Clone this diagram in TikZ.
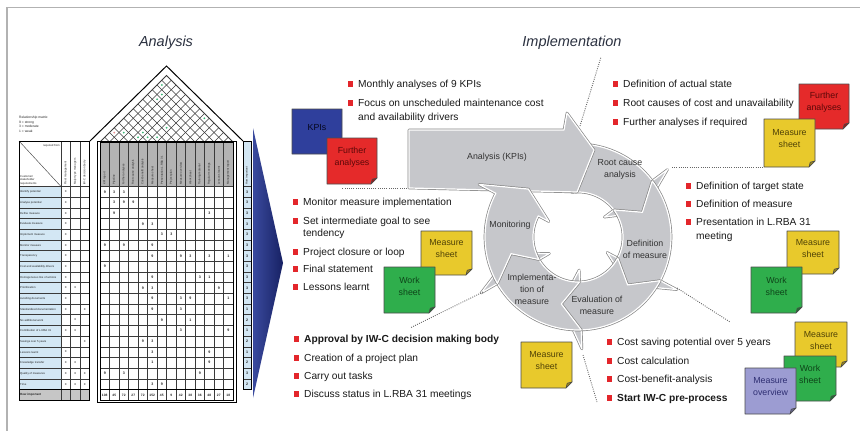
\documentclass[tikz,border=0pt]{standalone}
\usepackage{fontspec}
\setmainfont{Liberation Sans}

\definecolor{framegray}{HTML}{B2B2B2}
\definecolor{titlecol}{HTML}{2B3140}
\definecolor{txt}{HTML}{1A1A1A}
\definecolor{bulred}{HTML}{E3262B}
\definecolor{ringfill}{HTML}{C6C7CB}
\definecolor{ringline}{HTML}{858585}
\definecolor{ringtxt}{HTML}{333333}
\definecolor{dotcol}{HTML}{666666}
\definecolor{noteyellow}{HTML}{E8C92C}
\definecolor{notegreen}{HTML}{2FAE4C}
\definecolor{notered}{HTML}{E52A2A}
\definecolor{noteblue}{HTML}{2F3F9C}
\definecolor{notepurple}{HTML}{9C9CD2}
\definecolor{ntyellow}{HTML}{4F4206}
\definecolor{ntgreen}{HTML}{0E4419}
\definecolor{ntred}{HTML}{5C0808}
\definecolor{ntblue}{HTML}{05071E}
\definecolor{ntpurple}{HTML}{2E2E72}
\definecolor{hoqblue}{HTML}{D3E7F4}
\definecolor{hoqgrey}{HTML}{B3B3B3}
\definecolor{hoqline}{HTML}{3A3A3A}
\definecolor{navyL}{HTML}{3A4A9E}
\definecolor{navyD}{HTML}{172163}
\definecolor{roofgreen}{HTML}{3CB878}
\definecolor{roofpink}{HTML}{E89090}

\tikzset{
  bultext/.style={anchor=base west, inner sep=0pt, font=\fontsize{10.2}{12}\selectfont, text=txt},
  bulsq/.style={fill=bulred, draw=none, minimum size=5.5pt, inner sep=0pt},
  ringlabel/.style={font=\fontsize{8.8}{12}\selectfont, text=ringtxt, align=center, inner sep=0pt},
  notetext/.style={font=\fontsize{8.8}{12}\selectfont, align=center, inner sep=0pt},
  notebord/.style={draw=black!70, line width=0.6pt, line join=round},
  guide/.style={draw=dotcol, line width=0.9pt, dash pattern=on 0.9pt off 1.3pt},
  segshape/.style={fill=ringfill, draw=white, line width=1.2pt, line join=round,
    preaction={draw=ringline, line width=2.6pt, line join=round}},
  hoqtiny/.style={inner sep=0pt, font=\fontsize{2.8}{3.3}\selectfont, text=black!85},
  hoqnum/.style={inner sep=0pt, font=\bfseries\fontsize{3.6}{4}\selectfont, text=black!85},
  ttl/.style={font=\itshape\fontsize{14.5}{16}\selectfont, text=titlecol, inner sep=0pt}
}

% bullet with red square; continuation line without square
\newcommand\bulitem[4]{%
  \node[bulsq] (#1sq) at (#2-7.5,#3) {};
  \node[bultext] (#1) at (#2,#3+3.6) {#4};}
\newcommand\bulcont[4]{%
  \node[bultext] (#1) at (#2,#3+3.6) {#4};}

% sticky note with folded corner: name, x1, y1, x2, y2, fill, text colour, text
\newcommand\stickynote[8]{%
  \draw[notebord, fill=#6] (#2,#3) -- (#4,#3) -- (#4,#5-6) -- (#4-6,#5) -- (#2,#5) -- cycle;
  \draw[notebord, fill=#6!65!black] (#4,#5-6) -- (#4-6,#5) -- (#4-4.8,#5-4.8) -- cycle;
  \node[notetext, text=#7] (#1) at ({(#2+#4)/2},{(#3+#5)/2-4}) {#8};}

% one arrow of the cycle: start angle, barb angle
\newcommand\cycarrow[2]{%
  \path[segshape] (#1:93) -- plot[domain=#1:#2, samples=30] (\x:93) -- (#2:112) -- ({#2+16}:69)
    -- (#2:33) -- (#2:45) -- plot[domain=#2:#1, samples=30] (\x:45) -- ({#1+16}:69) -- cycle;}

\begin{document}
\begin{tikzpicture}[x=1pt,y=-1pt]
\useasboundingbox (0,0) rectangle (860,431);
\fill[white] (0,0) rectangle (860,431);

% page frame
\draw[framegray, line width=1.6pt] (7,431) -- (7,7.5) -- (860,7.5);

% titles
\node[ttl] (ttlA) at (166,43) {Analysis};
\node[ttl] (ttlI) at (572,43) {Implementation};

% ================= House of quality =================
\node[hoqtiny, anchor=north west, align=left, font=\fontsize{3.3}{4.7}\selectfont] (legend) at (19,116)
  {Relationship matrix:\\9 = strong\\3 = moderate\\1 = weak};

% fills
\fill[hoqblue] (19,186.5) rectangle (61,389.4);
\fill[hoqblue] (243,142) rectangle (251,389.4);
\fill[hoqgrey] (100,142) rectangle (233,186.5);
\fill[hoqgrey!75] (19,389.4) rectangle (89.5,400.5);

% roof grid
\begin{scope}[color=hoqline, line width=0.45pt]
\foreach \k in {1,...,13}{
  \draw ({100+9.5*\k},142) -- ({(100+9.5*\k+233)/2},{142-(133-9.5*\k)/2});
  \draw ({100+9.5*\k},142) -- ({(200+9.5*\k)/2},{142-(9.5*\k)/2});
}
\draw[line width=0.8pt] (100,142) -- (166.5,75.5) -- (233,142);
\end{scope}
\draw[black, line width=1pt] (90,141) -- (166.5,66) -- (243,141);
\foreach \px/\py/\pc in {161.75/85/roofgreen, 161.75/94.5/roofgreen, 157/99.25/roofgreen,
  204.25/118.25/roofgreen, 123.75/132.5/roofgreen, 142.75/132.5/roofgreen, 157/137.25/roofgreen,
  166.5/127.75/roofgreen, 138/137.25/roofgreen, 147.5/137.25/roofgreen, 114.25/132.5/roofpink}
  \fill[\pc] (\px,\py) circle[radius=1pt];

% grid lines
\begin{scope}[color=hoqline, line width=0.4pt]
\foreach \i in {0,...,19}{
  \pgfmathsetmacro\yy{186.5+10.68*\i}
  \draw (19,\yy) -- (89.5,\yy);
  \draw (100,\yy) -- (233,\yy);
  \draw (243,\yy) -- (251,\yy);
}
\foreach \xx in {61,70.5,80} \draw (\xx,141) -- (\xx,400.5);
\foreach \k in {1,...,13} \draw ({100+9.5*\k},142) -- ({100+9.5*\k},400.5);
\draw (19,141) -- (61,186.5);
\end{scope}
\draw[black, line width=1pt] (19,141) rectangle (89.5,400.5);
\draw[black, line width=1pt] (100,142) rectangle (233,400.5);
\draw[black, line width=0.6pt] (97,141) rectangle (236,402.5);
\draw[black, line width=1pt] (243,141) rectangle (251,389.4);
\draw[black, line width=1pt] (19,389.4) -- (89.5,389.4) (100,389.4) -- (233,389.4);

% header texts
\node[hoqtiny, anchor=north east] (reqfrom) at (60,144) {required from};
\node[hoqtiny, anchor=south west, align=left] (custreq) at (20,185) {Customer/\\stakeholder\\requirements};
\foreach \lbl [count=\j from 0] in {Fleet management, Major type managers, IW-C decision body}
  \node[hoqtiny, rotate=90, anchor=west] (lh\j) at ({65.75+9.5*\j},185) {\lbl};
\foreach \lbl [count=\j from 0] in {KPI report, Pipeline, Further analyses, Root cause analysis,
  Cost-benefit analysis, Measure sheet, Presentation L.RBA 31, Project plan, Measure overview,
  Work sheet, Training material, Regular meetings, Lessons learnt, Management report}
  \node[hoqtiny, rotate=90, anchor=west] (mh\j) at ({104.75+9.5*\j},185) {\lbl};
\node[hoqtiny, rotate=90, anchor=west] (rh) at (247,185) {How important};

% requirement rows
\foreach \nm [count=\i from 0] in {Identify potential, Analyse potential, Define measure,
  Evaluate measure, Implement measure, Monitor measure, Transparency,
  Cost and availability drivers, Homogeneous line of actions, Prioritization,
  Avoiding documents, Standardized documentation, No additional work,
  Contribution of L.RBA 31, Savings over 5 years, Lessons learnt, Knowledge transfer,
  Quality of measures, Time}
  \node[hoqtiny, anchor=west] (rq\i) at (20,{191.84+10.68*\i}) {\nm};
\node[hoqtiny, anchor=west, font=\bfseries\fontsize{3}{3.5}\selectfont] (howimp) at (20,395) {How important};

% stakeholder marks
\foreach \r/\c in {0/0,1/0,2/0,3/0,4/0,5/0,6/0,7/0,8/0,9/0,9/1,10/0,11/0,11/2,12/1,
  13/0,13/1,14/2,15/0,16/0,16/1,17/0,17/1,17/2,18/0,18/1,18/2}
  \node[hoqnum, font=\fontsize{3.6}{4}\selectfont] (x\r-\c) at ({65.75+9.5*\c},{191.84+10.68*\r}) {x};

% relationship values
\foreach \r/\c/\v in {0/0/9,0/1/3,0/2/3, 1/1/3,1/2/9,1/3/9, 2/1/9,2/11/3, 3/4/9,3/5/3,
  4/6/3,4/7/3, 5/0/9,5/2/9,5/5/9, 6/5/9,6/8/9,6/9/3,6/11/3,6/13/1, 7/0/9,
  8/5/9,8/10/3,8/11/1, 9/4/9,9/5/3,9/12/9, 10/5/9,10/8/3,10/9/9,10/13/1,
  11/5/9,11/8/3, 12/6/9,12/9/1, 13/8/3,13/13/9, 14/4/9,14/5/3, 15/5/3,15/11/9,
  16/5/1,16/11/9, 17/0/9,17/2/3,17/10/9, 18/5/3,18/6/9}
  \node[hoqnum] (v\r-\c) at ({104.75+9.5*\c},{191.84+10.68*\r}) {\v};

% importance weights
\foreach \w [count=\i from 0] in {3,3,3,3,3,3,3,3,3,3,3,1,2,1,2,1,2,3,2}
  \node[hoqnum] (w\i) at (247,{191.84+10.68*\i}) {\w};

% column totals
\foreach \t [count=\c from 0] in {108,45,72,27,72,152,45,9,42,38,36,48,27,18}
  \node[hoqnum, font=\bfseries\fontsize{3.3}{4}\selectfont] (t\c) at ({104.75+9.5*\c},395) {\t};

% transition chevron
\shade[left color=navyL, right color=navyD] (253,128) -- (283,263) -- (253,398) -- cycle;

% ================= Cycle =================
\begin{scope}[shift={(578,237)}]
\cycarrow{262}{323}
\cycarrow{323}{388}
\cycarrow{388}{448}
\cycarrow{448}{510}
\end{scope}

\path[segshape] (409,130) -- (564,130) -- (567,113) -- (594,150) -- (577,192) -- (409,188) -- cycle;

\begin{scope}[shift={(578,237)}]
\cycarrow{510}{568}
\end{scope}

\node[ringlabel] (cAna) at (497,157) {Analysis (KPIs)};
\node[ringlabel] (cRoot) at (620,169) {Root cause\\analysis};
\node[ringlabel] (cDef) at (645,249) {Definition\\of measure};
\node[ringlabel] (cEval) at (597,305) {Evaluation of\\measure};
\node[ringlabel] (cImpl) at (532,289) {Implementa-\\tion of\\measure};
\node[ringlabel] (cMon) at (510,225) {Monitoring};

% dotted guides from the cycle to the notes
\coordinate (g1a) at (580,126); \coordinate (g1b) at (601,57);
\coordinate (g2a) at (672,167); \coordinate (g2b) at (763,167);
\coordinate (g3a) at (677,288); \coordinate (g3b) at (730,322);
\coordinate (g4a) at (583,355); \coordinate (g4b) at (597,402);
\coordinate (g5a) at (483,292); \coordinate (g5b) at (410,328);
\coordinate (g6a) at (407,188); \coordinate (g6b) at (342,188);
\draw[guide] (g1a) -- (g1b);
\draw[guide] (g2a) -- (g2b);
\draw[guide] (g3a) -- (g3b);
\draw[guide] (g4a) -- (g4b);
\draw[guide] (g5a) -- (g5b);
\draw[guide] (g6a) -- (g6b);

% ================= Notes =================
\stickynote{nKPI}{292}{109}{342}{154}{noteblue}{ntblue}{KPIs}
\stickynote{nFurL}{327}{138}{377}{184}{notered}{ntred}{Further\\analyses}
\stickynote{nFurR}{799}{84}{849}{129}{notered}{ntred}{Further\\analyses}
\stickynote{nMsR1}{764}{119}{815}{167}{noteyellow}{ntyellow}{Measure\\sheet}
\stickynote{nMsL}{421}{231}{472}{275}{noteyellow}{ntyellow}{Measure\\sheet}
\stickynote{nWsL}{384}{267}{435}{313}{notegreen}{ntgreen}{Work\\sheet}
\stickynote{nMsB}{521}{342}{572}{388}{noteyellow}{ntyellow}{Measure\\sheet}
\stickynote{nMsR2}{787}{231}{839}{274}{noteyellow}{ntyellow}{Measure\\sheet}
\stickynote{nWsR2}{751}{267}{802}{313}{notegreen}{ntgreen}{Work\\sheet}
\stickynote{nMsR3}{795}{322}{847}{367}{noteyellow}{ntyellow}{Measure\\sheet}
\stickynote{nWsR3}{784}{356}{836}{401}{notegreen}{ntgreen}{Work\\sheet}
\stickynote{nMoR3}{745}{368}{796}{414}{notepurple}{ntpurple}{Measure\\overview}

% ================= Bullet texts =================
\bulitem{a1}{358}{84}{Monthly analyses of 9 KPIs}
\bulitem{a2}{358}{103}{Focus on unscheduled maintenance cost}
\bulcont{a2b}{358}{117}{and availability drivers}

\bulitem{b1}{623}{84}{Definition of actual state}
\bulitem{b2}{623}{103}{Root causes of cost and unavailability}
\bulitem{b3}{623}{122}{Further analyses if required}

\bulitem{c1}{696}{186}{Definition of target state}
\bulitem{c2}{696}{204}{Definition of measure}
\bulitem{c3}{696}{222}{Presentation in L.RBA 31}
\bulcont{c3b}{696}{236}{meeting}

\bulitem{d1}{617}{342}{Cost saving potential over 5 years}
\bulitem{d2}{617}{361}{Cost calculation}
\bulitem{d3}{617}{379}{Cost-benefit-analysis}
\bulitem{d4}{617}{398}{\bfseries Start IW-C pre-process}

\bulitem{e1}{303}{202}{Monitor measure implementation}
\bulitem{e2}{303}{221}{Set intermediate goal to see}
\bulcont{e2b}{303}{233}{tendency}
\bulitem{e3}{303}{252}{Project closure or loop}
\bulitem{e4}{303}{269}{Final statement}
\bulitem{e5}{303}{287}{Lessons learnt}

\bulitem{f1}{304}{339}{\bfseries Approval by IW-C decision making body}
\bulitem{f2}{304}{358}{Creation of a project plan}
\bulitem{f3}{304}{376}{Carry out tasks}
\bulitem{f4}{304}{394}{Discuss status in L.RBA 31 meetings}

\end{tikzpicture}
\end{document}
